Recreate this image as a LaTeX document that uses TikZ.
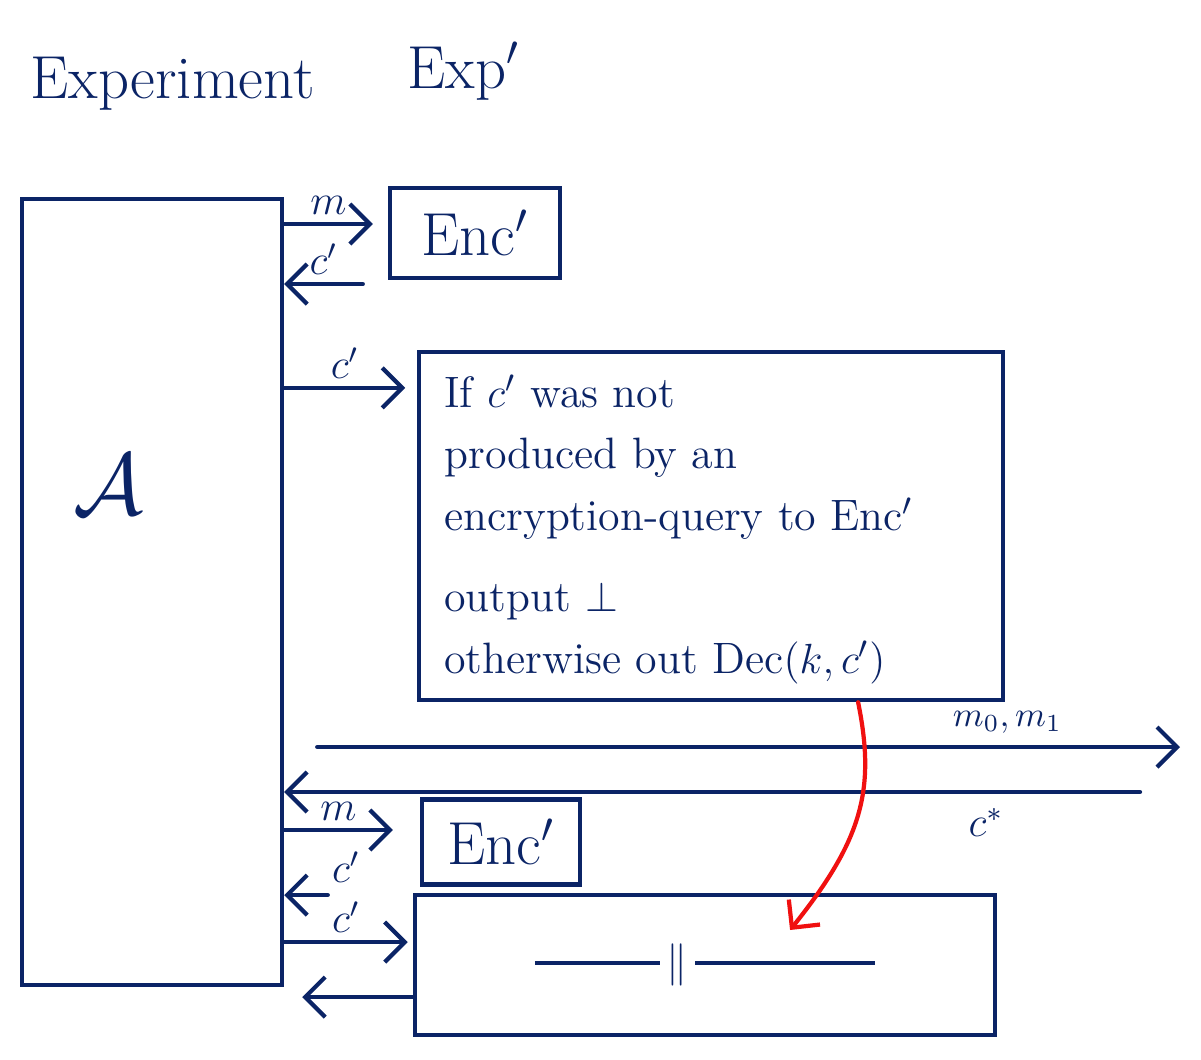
\documentclass[tikz,border=0pt]{standalone}
\usepackage{tikz}
\usetikzlibrary{arrows.meta, positioning, calc}
\usepackage{amsmath}
\usepackage{amssymb}
\usepackage{xcolor}
\definecolor{inkblue}{HTML}{0B2466}
\definecolor{inkred}{HTML}{F01010}

\begin{document}
\begin{tikzpicture}[
    x=0.01cm, y=-0.01cm,
    every node/.style={font=\large, text=inkblue},
    box/.style={draw=inkblue, line width=1.2pt, inner sep=0pt},
    msg/.style={draw=inkblue, line width=1.2pt, line cap=round, -{Straight Barb[length=2mm, width=4mm]}},
    lbl/.style={font=\large, inner sep=2pt}
]
    \useasboundingbox (0,0) rectangle (1201,1059);

    % title
    \node[font=\LARGE, anchor=base west] (title) at (18,98) {Experiment};
    \node[font=\LARGE, anchor=base west] (titleexp) at (395,88) {Exp$'$};

    % adversary and oracles
    \node[box, minimum width=2.6cm, minimum height=7.85cm] (adv) at (152,592) {};
    \node[font=\fontsize{38}{40}\selectfont] (advlbl) at (108,485) {$\mathcal{A}$};

    \node[box, font=\LARGE, minimum width=1.7cm, minimum height=0.9cm] (enc1) at (475,233) {Enc$'$};
    \node[box, minimum width=5.83cm, minimum height=3.48cm] (dec1) at (711,526) {};
    \node[anchor=north west, align=left, font=\fontsize{12.5}{17.5}\selectfont] (dec1txt) at (432,362)
        {If $c'$ was not\\ produced by an\\ encryption-query to Enc$'$\\[0.2cm] output $\bot$\\ otherwise out Dec$(k,c')$};

    \node[box, font=\LARGE, minimum width=1.58cm, minimum height=0.85cm] (enc2) at (501,842) {Enc$'$};
    \node[box, minimum width=5.8cm, minimum height=1.4cm] (dec2) at (705,965) {};
    \node (ditto) at (dec2.center) {\rule[0.6ex]{1.25cm}{1.1pt}\,$\|$\,\rule[0.6ex]{1.8cm}{1.1pt}};

    % first phase
    \coordinate (q1) at ([yshift=0.09cm]enc1.west);
    \draw[msg] (adv.east |- q1) -- ([xshift=-0.15cm]q1) node[midway, above, lbl] (q1lbl) {$m$};
    \coordinate (r1) at ([yshift=-0.51cm]enc1.west);
    \draw[msg] ([xshift=-0.25cm]r1) -- (adv.east |- r1) node[midway, above, lbl] (r1lbl) {$c'$};
    \coordinate (d1) at ([yshift=1.38cm]dec1.west);
    \draw[msg] (adv.east |- d1) -- ([xshift=-0.12cm]d1) node[midway, above, lbl] (d1lbl) {$c'$};

    % challenge
    \coordinate (chal) at (1180,747);
    \draw[msg] ([xshift=0.33cm]adv.east |- chal) -- (chal) node[pos=0.8, above, font=\normalsize] (challbl) {$m_0, m_1$};
    \coordinate (chout) at (1140,792);
    \draw[msg] (chout) -- (adv.east |- chout) node[pos=0.18, below=2pt, lbl] (choutlbl) {$c^{*}$};

    % second phase
    \coordinate (q2) at ([yshift=0.12cm]enc2.west);
    \draw[msg] (adv.east |- q2) -- ([xshift=-0.27cm]q2) node[midway, above, lbl] (q2lbl) {$m$};
    \coordinate (r2) at ([yshift=-0.53cm, xshift=-0.92cm]enc2.west);
    \draw[msg] (r2) -- (adv.east |- r2) node[midway, above=1pt, xshift=0.4cm, lbl] (r2lbl) {$c'$};
    \coordinate (d2) at ([yshift=0.23cm]dec2.west);
    \draw[msg] (adv.east |- d2) -- ([xshift=-0.05cm]d2) node[midway, above, lbl] (d2lbl) {$c'$};
    \coordinate (e2) at ([yshift=-0.32cm]dec2.west);
    \draw[msg] (e2) -- ([xshift=0.18cm]adv.east |- e2);

    % same oracle as above
    \coordinate (redend) at ([xshift=0.85cm, yshift=0.35cm]dec2.center);
    \draw[inkred, line width=1.2pt, line cap=round, -{Straight Barb[length=2mm, width=4mm]}]
        ([xshift=1.47cm]dec1.south) .. controls (876,790) and (862,840) .. (redend);
\end{tikzpicture}
\end{document}
